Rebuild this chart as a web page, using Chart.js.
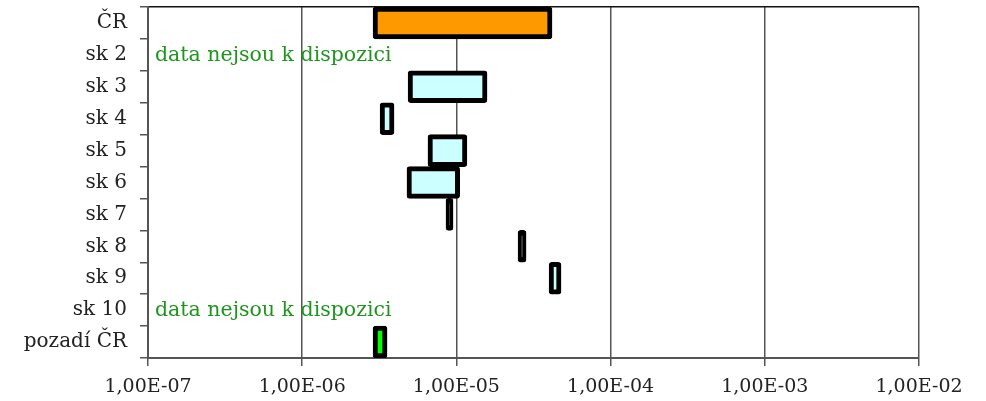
<!DOCTYPE html>
<html>
<head>
<meta charset="utf-8">
<script src="https://cdn.jsdelivr.net/npm/chart.js@4/dist/chart.umd.min.js"></script>
<style>
  html, body { margin: 0; padding: 0; background: #fff; }
  #wrap { width: 986px; height: 401px; }
</style>
</head>
<body>
<div id="wrap"><canvas id="graf"></canvas></div>
<script>
const categories = ['ČR', 'sk 2', 'sk 3', 'sk 4', 'sk 5', 'sk 6', 'sk 7', 'sk 8', 'sk 9', 'sk 10', 'pozadí ČR']
// min / max odhad z obrazku, null = data nejsou
const minValues = [2.88e-6, null, 4.86e-6, 3.2e-6, 6.54e-6, 4.78e-6, 8.56e-6, 2.51e-5, 3.99e-5, null, 2.88e-6]
const maxValues = [4.17e-5, null, 1.58e-5, 3.94e-6, 1.17e-5, 1.05e-5, 9.51e-6, 2.83e-5, 4.77e-5, null, 3.55e-6]
const barColors = ['#ff9900', null, '#ccffff', '#ccffff', '#ccffff', '#ccffff', '#000000', '#000000', '#ccffff', null, '#00ff00']
const xTicks = [1e-7, 1e-6, 1e-5, 1e-4, 1e-3, 1e-2]
const noDataText = 'data nejsou k dispozici'

const FONT = "'DejaVu Serif', serif"

const ranges = minValues.map((v, i) => v === null ? null : [v, maxValues[i]])

const formatTick = v => {
  let [m, e] = v.toExponential(2).split('e')
  let n = parseInt(e)
  let exp = (n < 0 ? '-' : '+') + String(Math.abs(n)).padStart(2, '0')
  return m.replace('.', ',') + 'E' + exp
}

// napis "data nejsou k dispozici" u radku bez dat
const noDataPlugin = {
  id: 'noData',
  afterDatasetsDraw(chart) {
    const ctx = chart.ctx
    const y = chart.scales.y
    ctx.save()
    ctx.font = "20.5px " + FONT
    ctx.fillStyle = '#1e961e'
    ctx.textBaseline = 'middle'
    ctx.textAlign = 'left'
    ranges.forEach((r, i) => {
      if (r === null) ctx.fillText(noDataText, chart.chartArea.left + 7, y.getPixelForValue(i) + 1)
    })
    ctx.restore()
  }
}

const ctx = document.getElementById('graf').getContext('2d')
const chart = new Chart(ctx, {
  type: 'bar',
  data: {
    labels: categories,
    datasets: [{
      data: ranges,
      backgroundColor: barColors.map(c => c || 'transparent'),
      borderColor: '#000000',
      borderWidth: 5,
      borderRadius: 3,
      borderSkipped: false,
      barPercentage: 1,
      categoryPercentage: 1
    }]
  },
  options: {
    indexAxis: 'y',
    responsive: true,
    maintainAspectRatio: false,
    animation: false,
    layout: { padding: { top: 7, right: 67, left: 0, bottom: 0 } },
    plugins: {
      legend: { display: false },
      tooltip: { enabled: false }
    },
    scales: {
      x: {
        type: 'logarithmic',
        min: 1e-7,
        max: 1e-2,
        afterBuildTicks: s => { s.ticks = xTicks.map(v => ({ value: v })) },
        afterFit: s => { s.height = 43; s.paddingLeft = 0; s.paddingRight = 0 },
        border: { color: '#555555', width: 2 },
        grid: { color: '#555555', lineWidth: 1.5, tickLength: 8, tickColor: '#555555' },
        ticks: {
          color: '#222222',
          font: { family: FONT, size: 19 },
          padding: 10,
          maxRotation: 0,
          autoSkip: false,
          callback: v => formatTick(v)
        }
      },
      y: {
        type: 'category',
        afterFit: s => { s.width = 148; s.paddingTop = 0; s.paddingBottom = 0 },
        border: { color: '#555555', width: 2 },
        grid: {
          offset: true,
          tickLength: 8,
          tickColor: '#555555',
          lineWidth: 1.5,
          color: c => c.index === 0 ? '#111111' : 'rgba(0,0,0,0)'
        },
        ticks: {
          color: '#222222',
          font: { family: FONT, size: 20 },
          padding: 13,
          autoSkip: false
        }
      }
    }
  },
  plugins: [noDataPlugin]
})
</script>
</body>
</html>
